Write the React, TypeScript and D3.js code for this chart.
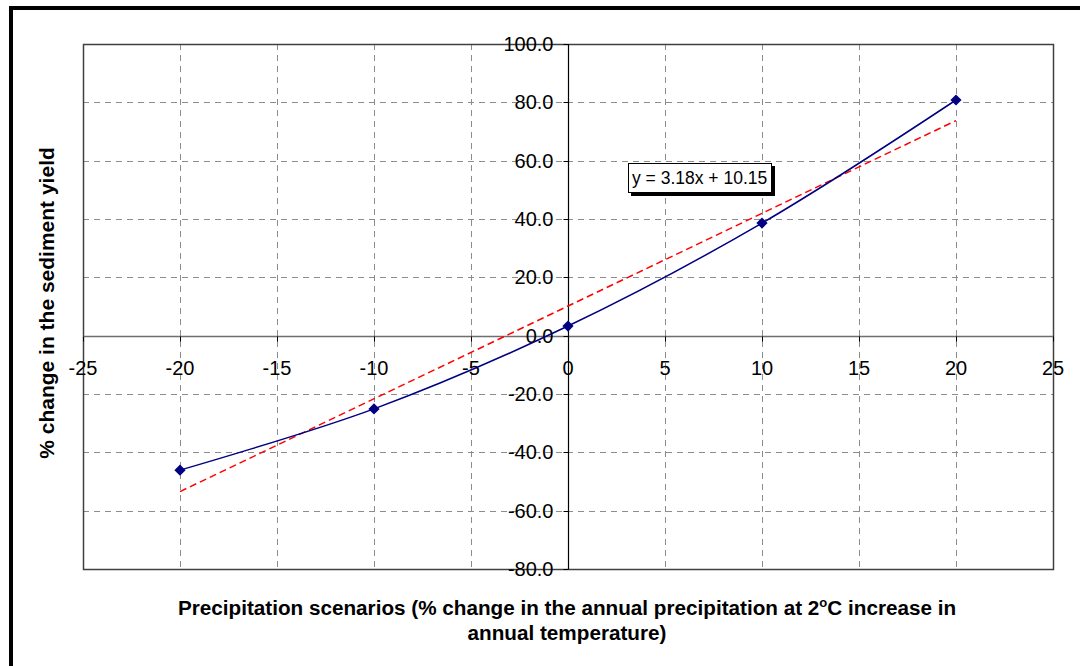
import React, { useEffect, useRef } from 'react';
import * as d3 from 'd3';

const scenarios = [-20, -10, 0, 10, 20];
const yieldChange = [-46.1, -25.1, 3.3, 38.6, 80.8];
const trendSlope = 3.18;
const trendIntercept = 10.15;
const xTicks = [-25, -20, -15, -10, -5, 0, 5, 10, 15, 20, 25];
const yTicks = [-80, -60, -40, -20, 0, 20, 40, 60, 80, 100];

const App: React.FC = () => {
  const svgRef = useRef<SVGSVGElement>(null);

  useEffect(() => {
    if (!svgRef.current) return;
    const width = 1080;
    const height = 666;
    const plot = { left: 83, top: 44, right: 1053, bottom: 569 };

    const svg = d3.select(svgRef.current)
      .attr('width', width)
      .attr('height', height)
      .html('');

    svg.append('rect').attr('width', width).attr('height', height).attr('fill', '#fff');

    // outer chart frame (runs off the right and bottom edges)
    svg.append('rect')
      .attr('x', 11).attr('y', 8)
      .attr('width', width + 20).attr('height', height + 20)
      .attr('fill', 'none').attr('stroke', '#000').attr('stroke-width', 4);

    const x = d3.scaleLinear().domain([-25, 25]).range([plot.left, plot.right]);
    const y = d3.scaleLinear().domain([-80, 100]).range([plot.bottom, plot.top]);

    const font = 'Liberation Sans, Arial, sans-serif';

    // gridlines
    const grid = svg.append('g')
      .attr('stroke', '#8c8c8c').attr('stroke-width', 1).attr('stroke-dasharray', '6,5');
    xTicks.filter(t => t !== -25 && t !== 25 && t !== 0).forEach(t => {
      grid.append('line')
        .attr('x1', Math.round(x(t)) + 0.5).attr('x2', Math.round(x(t)) + 0.5)
        .attr('y1', plot.top).attr('y2', plot.bottom);
    });
    yTicks.filter(t => t !== -80 && t !== 100 && t !== 0).forEach(t => {
      grid.append('line')
        .attr('y1', Math.round(y(t)) + 0.5).attr('y2', Math.round(y(t)) + 0.5)
        .attr('x1', plot.left).attr('x2', plot.right);
    });

    // plot border
    svg.append('rect')
      .attr('x', plot.left + 0.5).attr('y', plot.top + 0.5)
      .attr('width', plot.right - plot.left).attr('height', plot.bottom - plot.top)
      .attr('fill', 'none').attr('stroke', '#404040').attr('stroke-width', 1.5);

    // axes crossing at origin
    const x0 = Math.round(x(0)) + 0.5;
    const y0 = Math.round(y(0)) + 0.5;
    svg.append('line')
      .attr('x1', plot.left).attr('x2', plot.right).attr('y1', y0).attr('y2', y0)
      .attr('stroke', '#6e6e6e').attr('stroke-width', 1.5);
    svg.append('line')
      .attr('x1', x0).attr('x2', x0).attr('y1', plot.top).attr('y2', plot.bottom)
      .attr('stroke', '#000').attr('stroke-width', 1.2);

    // tick marks
    xTicks.forEach(t => {
      svg.append('line')
        .attr('x1', Math.round(x(t)) + 0.5).attr('x2', Math.round(x(t)) + 0.5)
        .attr('y1', y0).attr('y2', y0 + 5).attr('stroke', '#000');
    });
    yTicks.forEach(t => {
      svg.append('line')
        .attr('x1', x0 - 5).attr('x2', x0)
        .attr('y1', Math.round(y(t)) + 0.5).attr('y2', Math.round(y(t)) + 0.5).attr('stroke', '#000');
    });

    // tick labels
    svg.append('g').selectAll('text').data(xTicks).join('text')
      .attr('x', d => x(d)).attr('y', y0 + 38)
      .attr('text-anchor', 'middle')
      .attr('font-family', font).attr('font-size', 20).attr('fill', '#000')
      .text(d => String(d));
    svg.append('g').selectAll('text').data(yTicks).join('text')
      .attr('x', x0 - 15).attr('y', d => y(d) + 7)
      .attr('text-anchor', 'end')
      .attr('font-family', font).attr('font-size', 20).attr('fill', '#000')
      .text(d => d.toFixed(1));

    // linear trend line
    const tx = d3.extent(scenarios) as [number, number];
    svg.append('line')
      .attr('x1', x(tx[0])).attr('y1', y(trendSlope * tx[0] + trendIntercept))
      .attr('x2', x(tx[1])).attr('y2', y(trendSlope * tx[1] + trendIntercept))
      .attr('stroke', '#ff0000').attr('stroke-width', 1.5).attr('stroke-dasharray', '7,4');

    // data series (smoothed)
    const pts: [number, number][] = scenarios.map((s, i) => [s, yieldChange[i]]);
    const line = d3.line<[number, number]>()
      .x(d => x(d[0])).y(d => y(d[1]))
      .curve(d3.curveCatmullRom);
    svg.append('path')
      .datum(pts)
      .attr('fill', 'none').attr('stroke', '#000080').attr('stroke-width', 1.5)
      .attr('d', line);
    const diamond = d3.symbol().type(d3.symbolDiamond2).size(80);
    svg.append('g').selectAll('path').data(pts).join('path')
      .attr('transform', d => `translate(${x(d[0])},${y(d[1])})`)
      .attr('d', diamond)
      .attr('fill', '#000080');

    // equation label
    const eq = svg.append('g').attr('transform', 'translate(628,163)');
    eq.append('rect').attr('x', 3).attr('y', 3).attr('width', 144).attr('height', 30).attr('fill', '#000');
    eq.append('rect').attr('x', 0.5).attr('y', 0.5).attr('width', 143).attr('height', 29)
      .attr('fill', '#fff').attr('stroke', '#000');
    eq.append('text').attr('x', 4).attr('y', 21)
      .attr('font-family', font).attr('font-size', 17.5).attr('fill', '#000')
      .text(`y = ${trendSlope.toFixed(2)}x + ${trendIntercept.toFixed(2)}`);

    // axis titles
    svg.append('text')
      .attr('transform', `translate(54,303) rotate(-90)`)
      .attr('text-anchor', 'middle')
      .attr('font-family', font).attr('font-size', 21).attr('font-weight', 'bold')
      .text('% change in the sediment yield');

    const title = svg.append('text')
      .attr('text-anchor', 'middle')
      .attr('font-family', font).attr('font-size', 20.7).attr('font-weight', 'bold');
    const l1 = title.append('tspan').attr('x', 567).attr('y', 615);
    l1.append('tspan').text('Precipitation scenarios (% change in the annual precipitation at 2');
    l1.append('tspan').attr('font-size', 13).attr('dy', -8).text('o');
    l1.append('tspan').attr('dy', 8).text('C increase in');
    title.append('tspan').attr('x', 567).attr('y', 640).text('annual temperature)');
  }, []);

  return <svg ref={svgRef} style={{ position: 'absolute', left: 0, top: 0 }} />;
};

export default App;
